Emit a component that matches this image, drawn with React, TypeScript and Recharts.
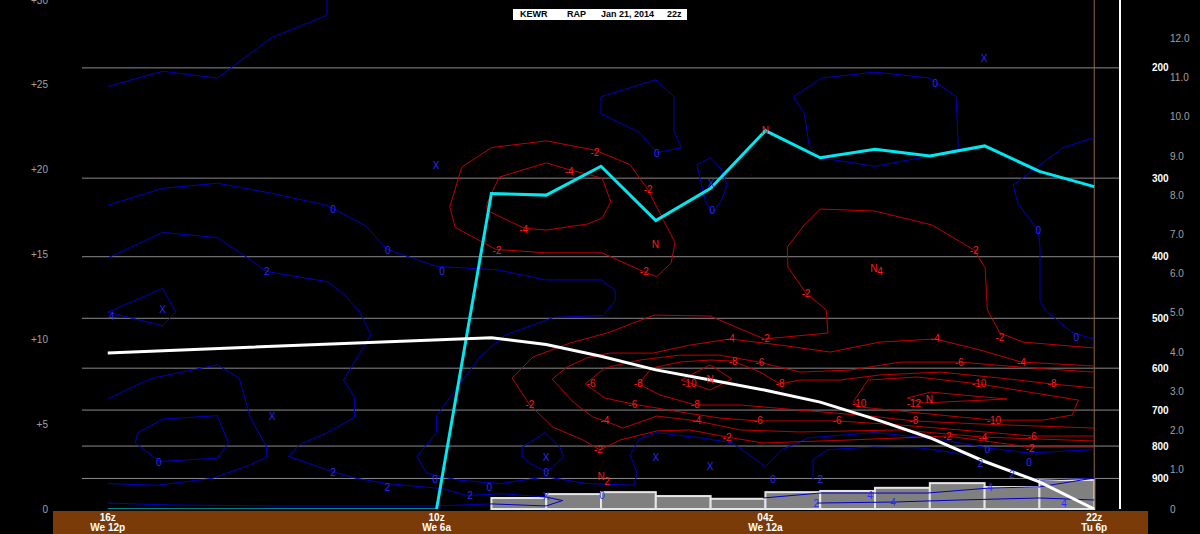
import React from 'react';
import { ComposedChart, Line, Bar, XAxis, YAxis, ReferenceLine } from 'recharts';

document.body.style.margin = '0';
document.body.style.background = '#000';

// time axis: forecast hour counted back from 22z (0) to 16z the next day (18)
const timeTicks = [0, 6, 12, 18];
const timeTop = ['22z', '04z', '10z', '16z'];
const timeBottom = ['Tu 6p', 'We 12a', 'We 6a', 'We 12p'];
const timeDomain = [-0.47, 18.47];

const heightTicks = [0, 5, 10, 15, 20, 25, 30];
const rightTicks = [0, 1, 2, 3, 4, 5, 6, 7, 8, 9, 10, 11, 12];
const pressureLevels = [200, 300, 400, 500, 600, 700, 800, 900];
const pressureHeights = [26.0, 19.5, 14.87, 11.24, 8.3, 5.83, 3.71, 1.8];

// cloud top line (cyan)
const cyanHours = [12, 11, 10, 9, 8, 7, 6, 5, 4, 3, 2, 1, 0];
const cyanHeight = [0, 18.6, 18.5, 20.2, 17.0, 18.9, 22.3, 20.7, 21.2, 20.8, 21.4, 19.9, 19.0];

// freezing level (white)
const freezeHours = [18, 11, 10, 9, 8, 7, 6, 5, 4, 3, 2, 1, 0];
const freezeHeight = [9.2, 10.1, 9.7, 9.0, 8.2, 7.6, 7.0, 6.3, 5.3, 4.2, 2.8, 1.6, 0];

// hourly precip bars (right scale)
const barHours = [10.5, 9.5, 8.5, 7.5, 6.5, 5.5, 4.5, 3.5, 2.5, 1.5, 0.5];
const barValues = [0.28, 0.38, 0.43, 0.33, 0.26, 0.43, 0.46, 0.54, 0.66, 0.56, 0.74];

type Pt = [number, number];

const blueContours: Pt[][] = [
  [[18, 24.9], [17, 25.8], [16, 25.4], [15, 27.8], [14, 29.1], [14, 30]],
  [[18, 17.9], [17, 18.9], [16, 19.2], [15, 18.6], [14, 17.9], [13.3, 16.7], [12.9, 15.3], [12, 14.3], [10.9, 14.1], [10, 13.5], [9, 13.5], [8.74, 12.9], [8.74, 12.3], [8.96, 11.4], [9.86, 11.3], [10.75, 10.25], [11.2, 9.0], [11.57, 7.4], [12, 5.5], [12, 4.5], [12.36, 3.1], [12.18, 2.1], [11.6, 1.7], [10.84, 1.5], [10, 1.9], [9.26, 1.5], [8.4, 1.4], [8.34, 2.1], [8.47, 3.2], [8.3, 4.1], [8, 4.5], [7.2, 4.2], [6.6, 3.9], [6, 2.5], [5.7, 3.5], [5.2, 4.2], [4, 4.5], [2.8, 4.1], [1.95, 3.6], [1.2, 3.3], [0, 3.5]],
  [[18, 14.8], [17, 16.3], [16, 16.0], [15.4, 14.7], [15.1, 14.0], [14, 13.4], [13.7, 12.7], [13.4, 11.6], [13.2, 10.25], [13.7, 7.6], [13.5, 6.6], [13.5, 5.4], [14, 4.5], [14.5, 3.8], [14.7, 3.1], [13.9, 2.2], [13.45, 1.8], [12.9, 1.5], [11.9, 1.2], [11.45, 0.8], [10.8, 0.9], [10, 0.7], [9.7, 0.5]],
  [[18, 11.6], [17, 13.0], [16.76, 11.6], [17, 10.8], [18, 11.6]],
  [[18, 6.5], [17.2, 7.7], [16, 8.5], [15.6, 7.7], [15.4, 5.4], [15.1, 3.65], [15.1, 3.06], [15.4, 2.6], [16.1, 1.8], [17.1, 1.4], [18, 1.5]],
  [[17.5, 3.9], [17.45, 4.5], [17, 5.3], [16, 5.5], [15.8, 3.9], [16, 3.0], [17.05, 2.8], [17.5, 3.9]],
  [[18, 0.35], [16.9, 0.24], [14.9, 0.18], [12, 0.18], [11, 0.3], [10, 0.18], [9.7, 0.5]],
  [[9, 24.3], [8, 25.3], [7.67, 24.3], [7.67, 22.3], [7.54, 21.3], [7.98, 21.0], [8.3, 22.2], [9, 23.3], [9, 24.3]],
  [[7.25, 20.3], [7.0, 20.7], [6.8, 20.0], [6.7, 19.1], [6.8, 18.2], [6.97, 17.4], [7.1, 18.2], [7.17, 19.2], [7.25, 20.3]],
  [[5.49, 24.3], [4.97, 25.4], [4, 25.75], [3, 25.4], [2.52, 24.3], [2.48, 21.2], [3, 20.8], [4, 20.2], [5, 20.7], [5.2, 21.4], [5.29, 23.3], [5.49, 24.3]],
  [[0, 21.9], [0.57, 21.3], [1.48, 19.1], [1.39, 18.0], [1.02, 16.4], [0.99, 15.4], [0.99, 12.3], [0.89, 11.7], [0.4, 10.4], [0, 10.0]],
  [[10.44, 3.65], [10.02, 4.5], [9.75, 3.65], [9.68, 3.06], [9.89, 2.47], [10, 2.18], [10.3, 2.7], [10.44, 3.06], [10.44, 3.65]],
  [[5.13, 1.7], [5.13, 2.9], [4.87, 3.5], [4.03, 3.65], [3.18, 3.6], [2.32, 3.2], [1.72, 2.4], [1.0, 1.7], [0, 1.8]],
  [[6.04, 0.65], [5, 0.94], [4.14, 0.94], [3.05, 0.94], [1.9, 1.24], [1, 1.3], [0, 1.83]],
  [[5.06, 0.35], [3.67, 0.41], [2.45, 0.53], [1, 0.65], [0, 0.53]],
];

const redContours: Pt[][] = [
  [[11.76, 17.8], [11.54, 20.15], [11, 21.3], [10, 21.7], [9.11, 21.15], [8.47, 20.3], [8.14, 18.8], [7.65, 15.7], [7.72, 14.5], [7.98, 13.7], [8.23, 14.0], [8.98, 15.1], [10, 15.1], [10.92, 15.3], [11.66, 16.6], [11.76, 17.8]],
  [[11.08, 18.0], [10.86, 19.56], [10, 20.4], [9.58, 20.0], [8.98, 19.5], [8.82, 18.1], [8.98, 17.15], [9.24, 16.8], [10, 16.44], [10.41, 16.56], [11.08, 17.6], [11.08, 18.0]],
  [[0, 9.49], [1.3, 9.84], [1.72, 10.37], [1.95, 11.73], [1.99, 14.2], [2.19, 15.26], [2.96, 16.74], [4, 17.56], [5, 17.68], [5.29, 16.74], [5.6, 15.44], [5.59, 14.26], [5.26, 12.73], [4.89, 11.73], [4.86, 10.37], [6.02, 10.02], [7.01, 11.37], [8.03, 11.43], [8.89, 10.37], [9.57, 9.78], [10.24, 8.96], [10.62, 7.72], [10.3, 6.13], [9.88, 4.83], [9.33, 4.07], [9.02, 3.48], [8.65, 4.07], [7.98, 4.6], [7.38, 4.66], [6.7, 4.24], [6.04, 3.89], [4.45, 4.07], [2.68, 4.3], [1.17, 3.65], [0, 3.65]],
  [[0, 8.43], [1.33, 8.66], [2.08, 9.37], [2.9, 10.02], [3.91, 9.84], [4.82, 9.25], [5.73, 9.66], [6.64, 10.02], [7.38, 9.66], [8.05, 9.19], [8.84, 9.19], [9.26, 8.9], [9.62, 8.37], [9.89, 7.66], [9.51, 6.31], [9.15, 5.42], [8.93, 5.19], [8.6, 4.77], [7.98, 5.48], [7.25, 5.19], [6.46, 4.66], [5.37, 4.54], [3.54, 4.66], [2.03, 4.24], [0, 4.01]],
  [[0, 8.07], [1.13, 8.31], [2.46, 8.66], [3.54, 8.66], [4.45, 8.19], [5.37, 8.07], [6.12, 8.66], [6.83, 9.07], [7.56, 9.07], [8.29, 8.78], [8.93, 8.31], [9.29, 7.37], [8.93, 6.54], [8.42, 6.19], [7.56, 5.72], [6.83, 5.36], [6.13, 5.19], [4.69, 5.19], [3.54, 4.95], [2.45, 4.66], [1.13, 4.3], [0, 4.3]],
  [[0, 7.13], [0.77, 7.37], [1.72, 7.72], [2.81, 8.07], [3.91, 7.9], [4.64, 7.6], [5.37, 7.6], [5.73, 7.37], [6.1, 8.07], [6.59, 8.72], [7.01, 8.78], [7.56, 8.66], [8.07, 8.31], [8.32, 7.37], [7.92, 6.72], [7.28, 6.13], [6.46, 6.13], [5.37, 5.83], [4.09, 5.48], [3.29, 5.19], [2.08, 5.01], [0, 4.77]],
  [[7.54, 7.6], [7.01, 8.49], [6.61, 7.66], [7.01, 7.01], [7.54, 7.6]],
  [[4.4, 6.31], [4.13, 7.6], [3.23, 7.78], [2.1, 7.37], [0.29, 6.42], [0.4, 5.54], [0.93, 5.24], [1.83, 5.24], [2.45, 5.42], [4.27, 6.01], [4.4, 6.31]],
  [[3.41, 6.54], [2.99, 6.89], [1.59, 6.48], [3.12, 6.25], [3.41, 6.54]],
];

type Lab = [number, number, string];

const redLabels: Lab[] = [
  [9.11, 21.04, '-2'], [9.58, 19.92, '-4'], [8.14, 18.86, '-2'], [10.41, 16.5, '-4'], [10.9, 15.26, '-2'],
  [8.01, 15.56, 'N'], [8.21, 14.02, '-2'], [5.26, 12.73, '-2'], [4.02, 14.2, 'N'], [3.91, 13.97, '4'],
  [2.19, 15.26, '-2'], [6.64, 10.02, '-4'], [6.0, 10.02, '-2'], [2.9, 10.02, '-4'], [1.72, 10.08, '-2'],
  [6.59, 8.72, '-8'], [6.1, 8.66, '-6'], [2.46, 8.66, '-6'], [1.33, 8.66, '-4'], [9.18, 7.37, '-6'],
  [8.32, 7.37, '-8'], [7.39, 7.37, '-10'], [7.01, 7.66, 'N'], [5.73, 7.37, '-8'], [2.1, 7.37, '-10'],
  [0.77, 7.37, '-8'], [10.3, 6.13, '-2'], [8.42, 6.13, '-6'], [7.28, 6.13, '-8'], [4.29, 6.19, '-10'],
  [3.29, 6.19, '-12'], [3.01, 6.48, 'N'], [8.93, 5.19, '-4'], [7.25, 5.19, '-4'], [6.13, 5.19, '-6'],
  [4.69, 5.19, '-6'], [3.29, 5.19, '-8'], [1.83, 5.24, '-10'], [6.7, 4.24, '-2'], [2.68, 4.3, '-2'],
  [2.03, 4.24, '-4'], [1.13, 4.3, '-6'], [9.05, 3.48, '-2'], [1.17, 3.54, '-2'], [9.0, 1.89, 'N'],
  [8.89, 1.65, '2'], [6.0, 22.33, 'N'],
];

const blueLabels: Lab[] = [
  [13.89, 17.68, '0'], [12.89, 15.26, '0'], [11.9, 13.97, '0'], [15.1, 13.97, '2'], [7.98, 20.98, '0'],
  [6.97, 17.62, '0'], [2.9, 25.1, '0'], [1.02, 16.44, '0'], [0.33, 10.08, '0'], [17.93, 11.37, '4'],
  [17.07, 2.77, '0'], [13.89, 2.18, '2'], [12.9, 1.24, '2'], [11.39, 0.82, '2'], [12.03, 1.71, '0'],
  [11.04, 1.24, '0'], [10.0, 2.18, '0'], [8.98, 0.82, '0'], [5.86, 1.71, '0'], [5.0, 1.71, '2'],
  [5.07, 0.35, '2'], [4.09, 0.82, '4'], [3.67, 0.41, '4'], [1.9, 1.24, '4'], [0.55, 0.35, '4'],
  [1.95, 3.48, '0'], [1.19, 2.77, '0'], [2.08, 2.71, '2'], [1.5, 2.06, '2'],
  [12.01, 20.27, 'X'], [17.0, 11.73, 'X'], [15.0, 5.48, 'X'], [2.01, 26.58, 'X'], [10.0, 3.06, 'X'],
  [8.0, 3.06, 'X'], [7.01, 2.53, 'X'], [10.0, 0.71, 'X'], [6.99, 19.21, 'X'],
];

const toRows = (pts: Pt[]) => pts.map(([h, z]) => ({ h, z }));
const labRows = (labs: Lab[]) => labs.map(([h, z, t]) => ({ h, z, t }));
const barData = barHours.map((h, i) => ({ h, v: barValues[i] }));
const cyanData = cyanHours.map((h, i) => ({ h, z: cyanHeight[i] }));
const freezeData = freezeHours.map((h, i) => ({ h, z: freezeHeight[i] }));
const tealData = [{ h: 18, z: 0 }, { h: 12, z: 0 }];

const FONT = '"Liberation Sans", Arial, sans-serif';
const PLOT_W = 1038;
const hourPx = PLOT_W / (timeDomain[1] - timeDomain[0]);

const labelDot = (color: string) => (props: any) => {
  const { cx, cy, payload, index } = props;
  return (
    <text key={index} x={cx} y={cy} fill={color} fontSize={10} fontFamily={FONT}
      textAnchor="middle" dominantBaseline="central">{payload.t}</text>
  );
};

// one-hour wide bar centred on its hour
const HourBar = (props: any) => {
  const { x, y, width, height } = props;
  if (height == null || height <= 0) return null;
  const cx = x + width / 2;
  return (
    <rect x={cx - hourPx / 2} y={y} width={hourPx} height={height}
      fill="#808080" stroke="#e6e6e6" strokeWidth={2} />
  );
};

const TimeTick = (props: any) => {
  const { x, y, payload } = props;
  const i = timeTicks.indexOf(payload.value);
  return (
    <g>
      <text x={x} y={y + 10} fill="#fff" fontSize={10} fontWeight="bold" fontFamily={FONT} textAnchor="middle">{timeTop[i]}</text>
      <text x={x} y={y + 20} fill="#fff" fontSize={10} fontWeight="bold" fontFamily={FONT} textAnchor="middle">{timeBottom[i]}</text>
    </g>
  );
};

const RightTick = (props: any) => {
  const { x, y, payload } = props;
  const v = payload.value;
  return (
    <text x={x} y={y} fill="#a0a0a0" fontSize={10} fontFamily={FONT} textAnchor="start" dominantBaseline="central">
      {v === 0 ? '0' : v.toFixed(1)}
    </text>
  );
};

export default function App() {
  return (
    <div style={{ position: 'relative', width: 1200, height: 534, background: '#000', overflow: 'hidden' }}>
      <div style={{ position: 'absolute', left: 53, top: 511, width: 1095, height: 23, background: '#7a3b08' }} />
      <div style={{ position: 'absolute', left: 0, top: 0 }}>
        <ComposedChart width={1200} height={534} data={barData} margin={{ top: 0, right: 0, bottom: 0, left: 0 }}>
          <XAxis dataKey="h" type="number" domain={timeDomain} reversed allowDataOverflow
            ticks={timeTicks} tick={<TimeTick />} tickLine={false} axisLine={false} tickSize={0} height={25} interval={0} />
          <YAxis yAxisId="z" dataKey="z" type="number" domain={[0, 30]} allowDataOverflow ticks={heightTicks}
            tickFormatter={(v: number) => (v === 0 ? '0' : '+' + v)} width={82} tickLine={false} axisLine={false}
            tickSize={0} tickMargin={34} tick={{ fill: '#a0a0a0', fontSize: 10, fontFamily: FONT }} interval={0} />
          <YAxis yAxisId="r" orientation="right" type="number" domain={[0, 12.98]} ticks={rightTicks}
            tick={<RightTick />} width={80} tickLine={false} axisLine={false} tickSize={0} tickMargin={50} interval={0} />

          {pressureHeights.map((p, i) => (
            <ReferenceLine key={p} yAxisId="z" y={p} stroke="#8a8a8a" strokeWidth={1}
              label={{ value: String(pressureLevels[i]), position: 'right', offset: 32, fill: '#ffffff', fontSize: 10, fontWeight: 'bold', fontFamily: FONT }} />
          ))}
          <ReferenceLine yAxisId="z" x={0} stroke="#8a6a48" strokeWidth={1} />
          <ReferenceLine yAxisId="z" x={timeDomain[0]} stroke="#ffffff" strokeWidth={2} />

          <Bar yAxisId="r" dataKey="v" shape={<HourBar />} isAnimationActive={false} />

          {blueContours.map((c, i) => (
            <Line key={'b' + i} yAxisId="z" data={toRows(c)} dataKey="z" stroke="#0000c8" strokeWidth={1}
              dot={false} activeDot={false} type="linear" isAnimationActive={false} />
          ))}
          {redContours.map((c, i) => (
            <Line key={'r' + i} yAxisId="z" data={toRows(c)} dataKey="z" stroke="#c00000" strokeWidth={1}
              dot={false} activeDot={false} type="linear" isAnimationActive={false} />
          ))}

          <Line yAxisId="z" data={tealData} dataKey="z" stroke="#008080" strokeWidth={2} dot={false} activeDot={false} isAnimationActive={false} />
          <Line yAxisId="z" data={cyanData} dataKey="z" stroke="#00e8f0" strokeWidth={3} dot={false} activeDot={false} type="linear" isAnimationActive={false} />
          <Line yAxisId="z" data={freezeData} dataKey="z" stroke="#ffffff" strokeWidth={3} dot={false} activeDot={false} type="linear" isAnimationActive={false} />

          <Line yAxisId="z" data={labRows(redLabels)} dataKey="z" stroke="none" dot={labelDot('#ff1a1a')} activeDot={false} isAnimationActive={false} />
          <Line yAxisId="z" data={labRows(blueLabels)} dataKey="z" stroke="none" dot={labelDot('#2a2aff')} activeDot={false} isAnimationActive={false} />
        </ComposedChart>
      </div>
      <div style={{
        position: 'absolute', left: 513, top: 9, width: 174, height: 11, background: '#fff',
        fontFamily: FONT, fontSize: 9, fontWeight: 'bold', color: '#000', lineHeight: '11px',
      }}>
        <span style={{ position: 'absolute', left: 7 }}>KEWR</span>
        <span style={{ position: 'absolute', left: 54 }}>RAP</span>
        <span style={{ position: 'absolute', left: 88 }}>Jan 21, 2014</span>
        <span style={{ position: 'absolute', left: 154 }}>22z</span>
      </div>
    </div>
  );
}
